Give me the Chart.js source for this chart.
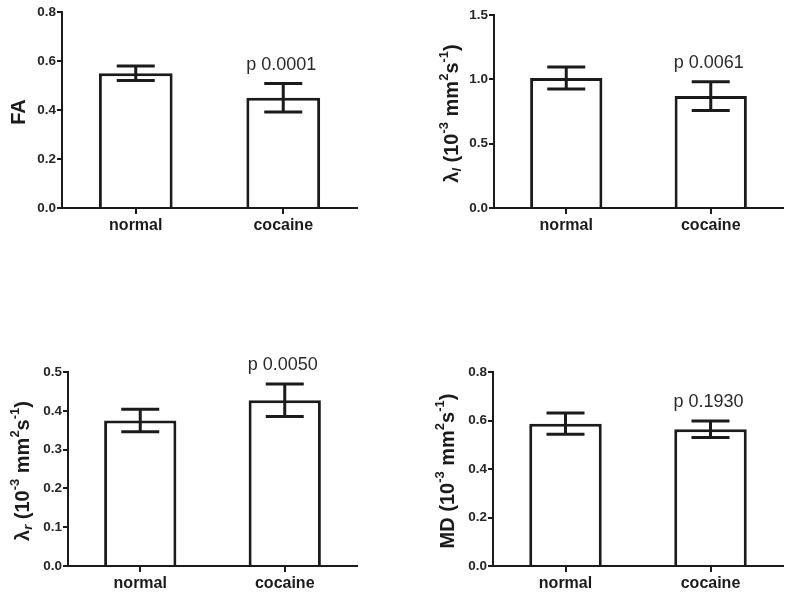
<!DOCTYPE html>
<html>
<head>
<meta charset="utf-8">
<script src="https://cdn.jsdelivr.net/npm/chart.js@4.4.1/dist/chart.umd.min.js"></script>
<style>
    html, body { margin: 0; padding: 0; background: #fff; }
    body { width: 800px; height: 602px; position: relative; overflow: hidden; }
    .panel { position: absolute; }
</style>
</head>
<body>
<div class="panel" style="left:0;top:0;width:400px;height:240px"><canvas id="faChart"></canvas></div>
<div class="panel" style="left:400px;top:0;width:400px;height:240px"><canvas id="lambdaLChart"></canvas></div>
<div class="panel" style="left:0;top:300px;width:400px;height:302px"><canvas id="lambdaRChart"></canvas></div>
<div class="panel" style="left:400px;top:300px;width:400px;height:302px"><canvas id="mdChart"></canvas></div>
<script>
// dados (media e desvio)
const categorias = ['normal', 'cocaine'];

const faMedia = [0.55, 0.45];
const faDesvio = [0.03, 0.058];

const lambdaLMedia = [1.01, 0.87];
const lambdaLDesvio = [0.085, 0.112];

const lambdaRMedia = [0.375, 0.427];
const lambdaRDesvio = [0.029, 0.042];

const mdMedia = [0.587, 0.564];
const mdDesvio = [0.044, 0.034];

const pValores = ['p 0.0001', 'p 0.0061', 'p 0.0050', 'p 0.1930'];

const yMaximos = [0.8, 1.5, 0.5, 0.8];
const yPassos = [0.2, 0.5, 0.1, 0.2];

// titulos do eixo y em partes (sup / sub)
const unidade = [
    { t: ' (10' }, { t: '-3', sup: true }, { t: ' mm' }, { t: '2', sup: true },
    { t: 's' }, { t: '-1', sup: true }, { t: ')' }
];
const titulosY = [
    [{ t: 'FA' }],
    [{ t: 'λ' }, { t: 'l', sub: true }].concat(unidade),
    [{ t: 'λ' }, { t: 'r', sub: true }].concat(unidade),
    [{ t: 'MD' }].concat(unidade)
];

const FONTE = "'Liberation Sans', Arial, Helvetica, sans-serif";
const PRETO = '#1b1b1b';

Chart.defaults.font.family = FONTE;
Chart.defaults.color = PRETO;
Chart.defaults.animation = false;

const extrasPlugin = {
    id: 'extras',
    afterDatasetsDraw(chart, args, opts) {
        const ctx = chart.ctx;
        const y = chart.scales.y;
        const meta = chart.getDatasetMeta(0);
        const dados = chart.data.datasets[0].data;

        ctx.save();
        ctx.strokeStyle = PRETO;
        ctx.lineWidth = 3;
        ctx.lineCap = 'butt';
        meta.data.forEach((bar, i) => {
            const topo = y.getPixelForValue(dados[i] + opts.desvio[i]);
            const base = y.getPixelForValue(dados[i] - opts.desvio[i]);
            ctx.beginPath();
            ctx.moveTo(bar.x, topo);
            ctx.lineTo(bar.x, base);
            ctx.moveTo(bar.x - 19, topo);
            ctx.lineTo(bar.x + 19, topo);
            ctx.moveTo(bar.x - 19, base);
            ctx.lineTo(bar.x + 19, base);
            ctx.stroke();
        });

        // p valor acima da barra cocaine
        const ult = meta.data.length - 1;
        const topoC = y.getPixelForValue(dados[ult] + opts.desvio[ult]);
        ctx.fillStyle = '#2a2a2a';
        ctx.font = '18px ' + FONTE;
        ctx.textAlign = 'center';
        ctx.textBaseline = 'middle';
        ctx.fillText(opts.p, meta.data[ult].x - 2, topoC - 19);
        ctx.restore();
    },
    afterDraw(chart, args, opts) {
        const ctx = chart.ctx;
        const area = chart.chartArea;
        const tam = 20;
        const partes = opts.titulo;

        const fonteDe = (p) => (p.sub ? 'italic bold ' : 'bold ') + ((p.sup || p.sub) ? Math.round(tam * 0.66) : tam) + 'px ' + FONTE;

        ctx.save();
        let total = 0;
        partes.forEach(p => { ctx.font = fonteDe(p); total += ctx.measureText(p.t).width; });

        ctx.translate(opts.tituloX, (area.top + area.bottom) / 2 + 2);
        ctx.rotate(-Math.PI / 2);
        ctx.fillStyle = PRETO;
        ctx.textBaseline = 'middle';
        ctx.textAlign = 'left';
        let x = -total / 2;
        partes.forEach(p => {
            ctx.font = fonteDe(p);
            let dy = 0;
            if (p.sup) dy = -tam * 0.38;
            if (p.sub) dy = tam * 0.28;
            ctx.fillText(p.t, x, dy);
            x += ctx.measureText(p.t).width;
        });
        ctx.restore();
    }
};

function criarGrafico(id, media, desvio, i, caixa) {
    const alturaX = caixa.h - caixa.bottom;
    new Chart(document.getElementById(id), {
        type: 'bar',
        data: {
            labels: categorias,
            datasets: [{
                data: media,
                backgroundColor: '#ffffff',
                borderColor: PRETO,
                borderWidth: 3,
                borderSkipped: 'start',
                barPercentage: 0.5,
                categoryPercentage: 1
            }]
        },
        options: {
            responsive: true,
            maintainAspectRatio: false,
            devicePixelRatio: 1,
            layout: {
                padding: { left: 0, top: caixa.top, right: 400 - caixa.right, bottom: 0 }
            },
            scales: {
                x: {
                    afterFit: (s) => { s.height = alturaX; },
                    grid: { offset: false, drawOnChartArea: false, tickLength: 6, color: PRETO, lineWidth: 2 },
                    border: { color: PRETO, width: 2 },
                    ticks: { font: { size: 16, weight: 'bold' }, color: PRETO, padding: 2 }
                },
                y: {
                    min: 0,
                    max: yMaximos[i],
                    afterFit: (s) => { s.width = caixa.left; },
                    grid: { drawOnChartArea: false, tickLength: 5, color: PRETO, lineWidth: 2 },
                    border: { color: PRETO, width: 2 },
                    ticks: {
                        stepSize: yPassos[i],
                        font: { size: 13.5, weight: 'bold' },
                        color: '#262626',
                        padding: 1,
                        callback: (v) => Number(v).toFixed(1)
                    }
                }
            },
            plugins: {
                legend: { display: false },
                tooltip: { enabled: false },
                extras: { desvio: desvio, p: pValores[i], titulo: titulosY[i], tituloX: caixa.tituloX }
            }
        },
        plugins: [extrasPlugin]
    });
}

criarGrafico('faChart', faMedia, faDesvio, 0, { left: 62, right: 357, top: 12, bottom: 208, h: 240, tituloX: 19 });
criarGrafico('lambdaLChart', lambdaLMedia, lambdaLDesvio, 1, { left: 94, right: 383, top: 15, bottom: 208, h: 240, tituloX: 52 });
criarGrafico('lambdaRChart', lambdaRMedia, lambdaRDesvio, 2, { left: 68, right: 357, top: 72, bottom: 266, h: 302, tituloX: 23 });
criarGrafico('mdChart', mdMedia, mdDesvio, 3, { left: 93, right: 383, top: 72, bottom: 266, h: 302, tituloX: 48 });
</script>
</body>
</html>
